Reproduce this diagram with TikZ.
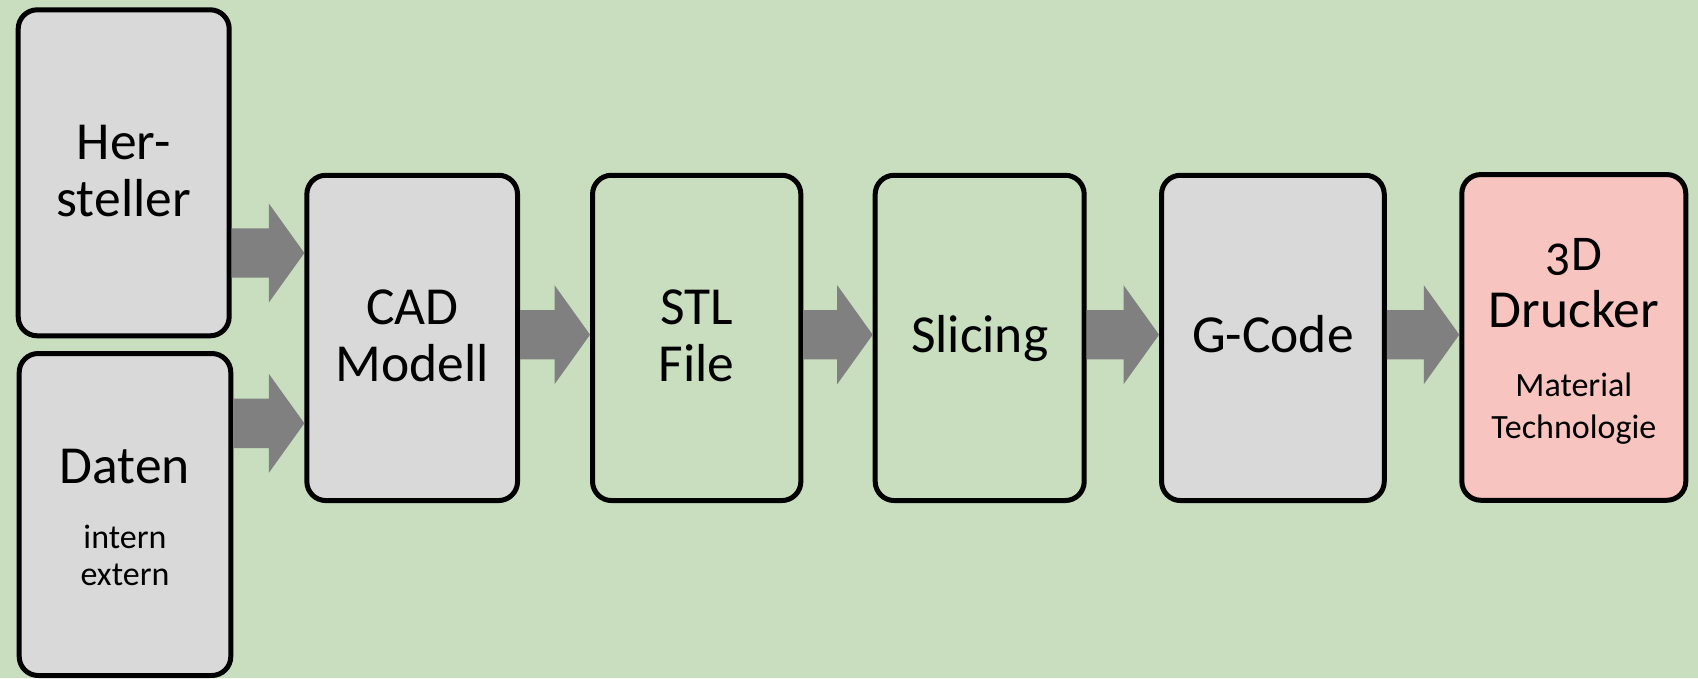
\documentclass[tikz,border=0pt]{standalone}
\usepackage{fontspec}
\setmainfont{Carlito}[Numbers=OldStyle]
\usetikzlibrary{calc}

\definecolor{pagegreen}{HTML}{C8DEBF}
\definecolor{boxgrey}{HTML}{D9D9D9}
\definecolor{boxpink}{HTML}{F8C4BF}
\definecolor{arrowgrey}{HTML}{808080}

\newcommand{\bigtext}{\fontsize{53.5}{57}\selectfont}
\newcommand{\subtext}{\fontsize{34}{34}\selectfont}

% broad block arrow from a start point to a tip point (same height)
\newcommand{\flowarrow}[2]{%
  \fill[arrowgrey]
    ($(#1)+(0,-24.7)$) -- ($(#2)+(-35.5,-24.7)$) -- ($(#2)+(-35.5,-49.5)$)
    -- (#2)
    -- ($(#2)+(-35.5,49.5)$) -- ($(#2)+(-35.5,24.7)$) -- ($(#1)+(0,24.7)$)
    -- cycle;}

\tikzset{
  stepbox/.style={draw=black, line width=5pt, rounded corners=19pt,
    inner sep=0pt, align=center, font=\bigtext, text depth=0pt},
  greybox/.style={stepbox, fill=boxgrey},
  greenbox/.style={stepbox, fill=pagegreen},
  pinkbox/.style={stepbox, fill=boxpink},
}

\begin{document}
\begin{tikzpicture}[x=1pt, y=-1pt]
  \useasboundingbox (0,0) rectangle (1698,678);
  \fill[pagegreen] (0,0) rectangle (1698,678);

  \node[greybox, minimum width=211pt, minimum height=326pt, text height=87.8pt]
    (her) at (123.7,172.8) {Her-\\steller};
  \node[greybox, minimum width=211.6pt, minimum height=322pt, text height=141pt]
    (dat) at (125,514.5) {Daten\\[8pt]{\subtext intern}\\[-20.3pt]{\subtext extern}};
  \node[greybox, minimum width=210.7pt, minimum height=325.3pt, text height=86.2pt]
    (cad) at (412.2,337.9) {CAD\\Modell};
  \node[greenbox, minimum width=208.3pt, minimum height=325.3pt, text height=86.2pt]
    (stl) at (696.7,337.9) {STL\\File};
  \node[greenbox, minimum width=209pt, minimum height=325.3pt, text height=29.6pt]
    (sli) at (979.7,337.9) {Slicing};
  \node[greybox, minimum width=222.7pt, minimum height=325.3pt, text height=29.6pt]
    (gco) at (1272.9,337.9) {G-Code};
  \node[pinkbox, minimum width=224pt, minimum height=325.7pt, text height=201.8pt]
    (drk) at (1573.8,337.4)
    {\fontsize{50}{57}\selectfont 3D\\[0pt]Drucker\\[11.7pt]{\subtext Material}\\[-15.3pt]{\subtext Technologie}};

  % arrow end points
  \coordinate (a1s) at (her.east |- 0,253);
  \coordinate (a1e) at (cad.west |- 0,253);
  \coordinate (a2s) at (dat.east |- 0,423.3);
  \coordinate (a2e) at (cad.west |- 0,423.3);
  \coordinate (a3s) at (cad.east |- 0,334.7);
  \coordinate (a3e) at (stl.west |- 0,334.7);
  \coordinate (a4s) at (stl.east |- 0,334.7);
  \coordinate (a4e) at (sli.west |- 0,334.7);
  \coordinate (a5s) at (sli.east |- 0,334.7);
  \coordinate (a5e) at (gco.west |- 0,334.7);
  \coordinate (a6s) at (gco.east |- 0,334.7);
  \coordinate (a6e) at (drk.west |- 0,334.7);

  \flowarrow{a1s}{a1e}
  \flowarrow{a2s}{a2e}
  \flowarrow{a3s}{a3e}
  \flowarrow{a4s}{a4e}
  \flowarrow{a5s}{a5e}
  \flowarrow{a6s}{a6e}
\end{tikzpicture}
\end{document}
